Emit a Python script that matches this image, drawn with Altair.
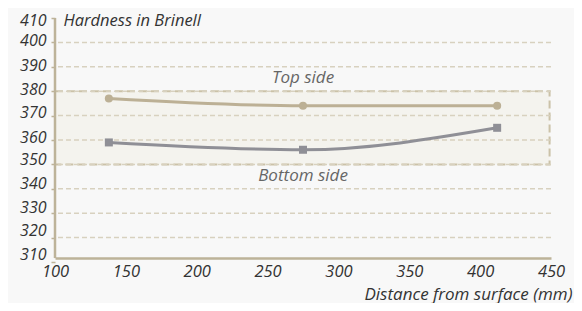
import altair as alt
import pandas as pd

# ---- data ----
distance = [138, 275, 412]
top_side = [377, 374, 374]
bottom_side = [359, 356, 365]
x_ticks = [100, 150, 200, 250, 300, 350, 400, 450]
y_ticks = [310, 320, 330, 340, 350, 360, 370, 380, 390, 400, 410]
grid_values = [320, 330, 340, 350, 360, 370, 380, 390, 400]
band_range = [350, 380]
band_x = [100, 449]
axis_bottom = 311.6

W, H = 496, 240
FONT = "Open Sans"
BEIGE = "#bcb095"
GRAY = "#8f8f96"
AXIS = "#bdb399"
GRID = "#d8d1bf"

top_df = pd.DataFrame({"x": distance, "y": top_side})
bot_df = pd.DataFrame({"x": distance, "y": bottom_side})
grid_df = pd.DataFrame({"y": grid_values})
band_df = pd.DataFrame({"x": [band_x[0]], "x2": [band_x[1]], "y": [band_range[0]], "y2": [band_range[1]]})
yline_df = pd.DataFrame({"x": [x_ticks[0]], "y": [axis_bottom], "y2": [y_ticks[-1]]})
top_lbl = pd.DataFrame({"x": [(x_ticks[0] + x_ticks[-1]) / 2], "y": [band_range[1]], "t": ["Top side"]})
bot_lbl = pd.DataFrame({"x": [(x_ticks[0] + x_ticks[-1]) / 2], "y": [band_range[0]], "t": ["Bottom side"]})

xs = alt.Scale(domain=[x_ticks[0], x_ticks[-1]], nice=False, zero=False)
ys = alt.Scale(domain=[y_ticks[0], y_ticks[-1]], range=[244, 0], nice=False, zero=False)

x_axis = alt.Axis(
    values=x_ticks, grid=False, ticks=False, domainColor=AXIS, domainWidth=2.5,
    labelFont=FONT, labelFontStyle="italic", labelFontSize=16.5, labelColor="#333333",
    labelPadding=5, labelFlush=False,
    title="Distance from surface (mm)", titleFont=FONT, titleFontStyle="italic",
    titleFontWeight="normal", titleFontSize=17, titleColor="#333333",
    titleX=517, titleY=41, titleAlign="right", titleBaseline="alphabetic", titleAnchor="end",
)
y_axis = alt.Axis(
    values=y_ticks, grid=False, domain=False, tickColor=AXIS, tickSize=4, tickWidth=1.5,
    labelFont=FONT, labelFontStyle="italic", labelFontSize=16, labelColor="#333333",
    labelPadding=5, labelFlush=False,
    labelOffset={"condition": [
        {"test": "datum.value <= 310", "value": -8},
        {"test": "datum.value <= 320", "value": -7.5},
        {"test": "datum.value <= 330", "value": -5.5},
        {"test": "datum.value <= 340", "value": -5},
        {"test": "datum.value <= 350", "value": -4.5},
        {"test": "datum.value <= 370", "value": -3},
        {"test": "datum.value <= 400", "value": -1.5},
    ], "value": 2},
    title="Hardness in Brinell", titleFont=FONT, titleFontStyle="italic",
    titleFontWeight="normal", titleFontSize=16.5, titleColor="#333333",
    titleAngle=0, titleX=8, titleY=7.5, titleAlign="left", titleBaseline="alphabetic",
)

X = alt.X("x:Q", scale=xs, axis=x_axis)
Y = alt.Y("y:Q", scale=ys, axis=y_axis)

band = alt.Chart(band_df).mark_rect(
    fill="#f4f3ee", stroke="#cbc2a8", strokeWidth=2, strokeDash=[8, 4]
).encode(x=X, x2="x2:Q", y=Y, y2="y2:Q")

grid = alt.Chart(grid_df).mark_rule(
    color=GRID, strokeWidth=1.5, strokeDash=[5, 3]
).encode(y=Y)

yline = alt.Chart(yline_df).mark_rule(color=AXIS, strokeWidth=2.5).encode(
    x=X, y=Y, y2="y2:Q"
)

top_line = alt.Chart(top_df).mark_line(
    color=BEIGE, strokeWidth=3, interpolate="monotone"
).encode(x=X, y=Y)
top_pts = alt.Chart(top_df).mark_point(
    shape="circle", filled=True, color=BEIGE, size=65, opacity=1
).encode(x=X, y=Y)

bot_line = alt.Chart(bot_df).mark_line(
    color=GRAY, strokeWidth=3, interpolate="monotone"
).encode(x=X, y=Y)
bot_pts = alt.Chart(bot_df).mark_point(
    shape="square", filled=True, color=GRAY, size=64, opacity=1
).encode(x=X, y=Y)

top_text = alt.Chart(top_lbl).mark_text(
    font=FONT, fontStyle="italic", fontSize=17, color="#666666",
    baseline="alphabetic", dy=-8
).encode(x=X, y=Y, text="t:N")
bot_text = alt.Chart(bot_lbl).mark_text(
    font=FONT, fontStyle="italic", fontSize=17, color="#666666",
    baseline="alphabetic", dy=17
).encode(x=X, y=Y, text="t:N")

chart = alt.layer(
    band, grid, yline, bot_line, top_line, bot_pts, top_pts, top_text, bot_text
).properties(
    width=W, height=H,
    autosize=alt.AutoSizeParams(type="none"),
    padding={"left": 47, "top": 10, "right": 23, "bottom": 45},
    background="#f8f8f8",
).configure_view(stroke=None)

chart.save("out.html", embed_options={"renderer": "svg", "actions": False})
